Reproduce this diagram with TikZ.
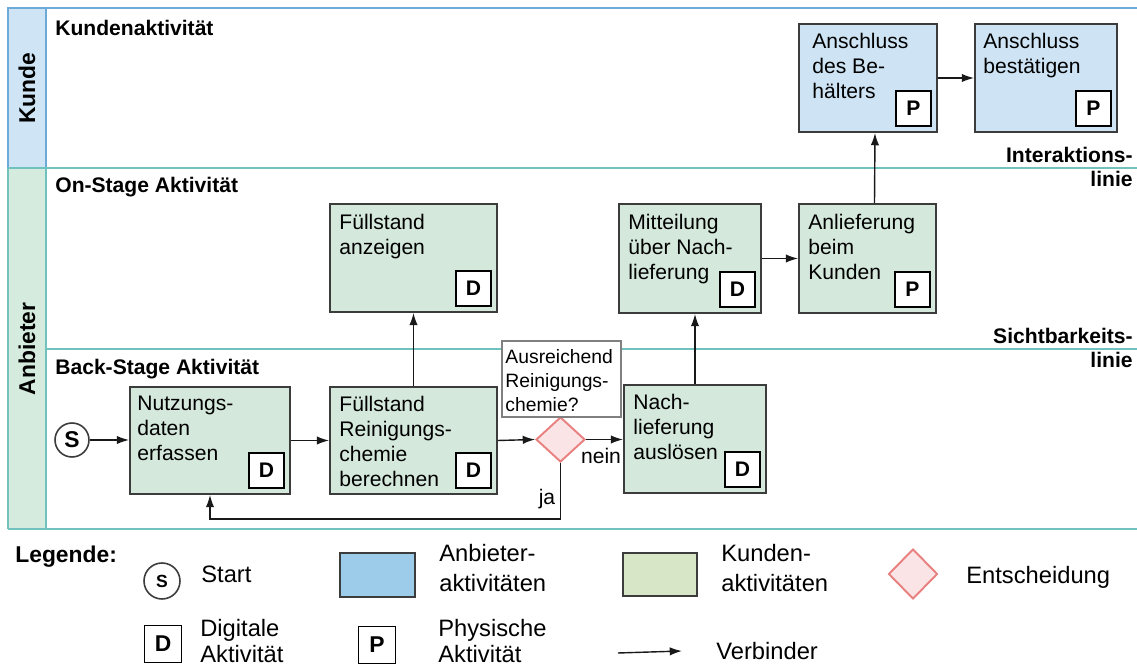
\documentclass[tikz,border=0pt]{standalone}
\usepackage{fontspec}
\setmainfont{Liberation Sans}
\usetikzlibrary{arrows.meta,shapes.geometric}

\definecolor{kundeblue}{RGB}{207,229,245}
\definecolor{anbietergreen}{RGB}{213,235,222}
\definecolor{boxgreen}{RGB}{212,232,220}
\definecolor{boxblue}{RGB}{206,228,244}
\definecolor{legblue}{RGB}{157,203,234}
\definecolor{leggreen}{RGB}{216,230,200}
\definecolor{decfill}{RGB}{251,228,230}
\definecolor{decline}{RGB}{232,128,128}
\definecolor{laneteal}{RGB}{112,194,190}
\definecolor{laneblue}{RGB}{110,170,215}
\definecolor{edgegray}{RGB}{60,60,60}

\tikzset{
    lane/.style={line width=0.85pt},
    lanename/.style={rotate=90, inner sep=0pt, font=\bfseries\fontsize{13}{15}\selectfont},
    lanetitle/.style={anchor=north west, inner sep=0pt, font=\bfseries\fontsize{12}{14}\selectfont},
    linelabel/.style={anchor=north east, inner sep=0pt, align=right, font=\bfseries\fontsize{12}{13.6}\selectfont},
    act/.style={draw=edgegray, line width=1.1pt, inner sep=0pt},
    actgreen/.style={act, fill=boxgreen},
    actblue/.style={act, fill=boxblue},
    acttext/.style={anchor=north west, inner sep=0pt, align=left, font=\fontsize{12}{14.2}\selectfont},
    badge/.style={draw=black, line width=1.1pt, fill=white, minimum size=0.7cm, inner sep=0pt,
        anchor=south east, font=\bfseries\fontsize{12}{14}\selectfont},
    startnode/.style={circle, draw=edgegray, line width=0.9pt, fill=white, minimum size=0.68cm,
        inner sep=0pt, font=\bfseries\fontsize{13}{15}\selectfont},
    decision/.style={diamond, draw=decline, line width=1.1pt, fill=decfill, inner sep=0pt,
        minimum width=0.98cm, minimum height=0.9cm},
    askbox/.style={draw=gray, line width=1pt, fill=white, inner sep=0pt},
    asktext/.style={anchor=north west, inner sep=0pt, align=left, font=\fontsize{11}{13.6}\selectfont},
    lbl/.style={inner sep=0pt, font=\fontsize{12}{14}\selectfont},
    conn/.style={draw=black!90, line width=0.8pt, -{Latex[length=7pt,width=4.8pt]}},
    legtext/.style={anchor=west, inner sep=0pt, align=left, font=\fontsize{13.5}{17}\selectfont},
    legbadge/.style={badge, anchor=center, minimum size=0.74cm, font=\bfseries\fontsize{13}{15}\selectfont},
}

\begin{document}
\begin{tikzpicture}[x=0.02cm, y=-0.02cm]
    \useasboundingbox (0,0) rectangle (1137,671);

    % swimlanes
    \fill[kundeblue] (8,8) rectangle (46,168);
    \fill[anbietergreen] (8,168) rectangle (46,529);
    \draw[laneblue, lane] (1137,8) -- (8,8) -- (8,168) (46,8) -- (46,168);
    \draw[laneteal, lane] (8,168) -- (1137,168) (46,349) -- (1137,349) (8,529) -- (1137,529)
        (8,168) -- (8,529) (46,168) -- (46,529);

    \node[lanename] (kunde) at (27,88) {Kunde};
    \node[lanename] (anbieter) at (27,349) {Anbieter};

    \node[lanetitle] (kundenakt) at (55,20) {Kundenaktivität};
    \node[lanetitle] (onstage) at (55,177) {On-Stage Aktivität};
    \node[lanetitle] (backstage) at (55,359) {Back-Stage Aktivität};

    \node[linelabel] (interaktion) at (1133,147) {Interaktions-\\linie};
    \node[linelabel] (sichtbarkeit) at (1133,328) {Sichtbarkeits-\\linie};

    % customer activities
    \node[actblue, minimum width=2.76cm, minimum height=2.16cm] (behaelter) at (868,78) {};
    \node[acttext] (behaelter-t) at ([shift={(14,10)}]behaelter.north west) {Anschluss\\des Be-\\hälters};
    \node[badge] (behaelter-b) at ([shift={(-6,-6)}]behaelter.south east) {P};

    \node[actblue, minimum width=2.84cm, minimum height=2.16cm] (bestaet) at (1046,78) {};
    \node[acttext] (bestaet-t) at ([shift={(9,10)}]bestaet.north west) {Anschluss\\bestätigen};
    \node[badge] (bestaet-b) at ([shift={(-6,-6)}]bestaet.south east) {P};

    % on-stage
    \node[actgreen, minimum width=3.34cm, minimum height=2.16cm] (anzeigen) at (413.5,258) {};
    \node[acttext] (anzeigen-t) at ([shift={(10,11)}]anzeigen.north west) {Füllstand\\anzeigen};
    \node[badge] (anzeigen-b) at ([shift={(-6,-6)}]anzeigen.south east) {D};

    \node[actgreen, minimum width=2.84cm, minimum height=2.18cm] (mitteil) at (690,258.5) {};
    \node[acttext] (mitteil-t) at ([shift={(10,11)}]mitteil.north west) {Mitteilung\\über Nach-\\lieferung};
    \node[badge] (mitteil-b) at ([shift={(-6,-6)}]mitteil.south east) {D};

    \node[actgreen, minimum width=2.74cm, minimum height=2.18cm] (anlief) at (867.5,258.5) {};
    \node[acttext] (anlief-t) at ([shift={(10,11)}]anlief.north west) {Anlieferung\\beim\\Kunden};
    \node[badge] (anlief-b) at ([shift={(-6,-6)}]anlief.south east) {P};

    % back-stage
    \node[startnode] (start) at (72,440) {S};

    \node[actgreen, minimum width=3.2cm, minimum height=2.14cm] (nutzung) at (210,440.5) {};
    \node[acttext] (nutzung-t) at ([shift={(8,10)}]nutzung.north west) {Nutzungs-\\daten\\erfassen};
    \node[badge] (nutzung-b) at ([shift={(-6,-6)}]nutzung.south east) {D};

    \node[actgreen, minimum width=3.34cm, minimum height=2.14cm] (berechnen) at (413.5,440.5) {};
    \node[acttext] (berechnen-t) at ([shift={(10,10)}]berechnen.north west) {Füllstand\\Reinigungs-\\chemie\\berechnen};
    \node[badge] (berechnen-b) at ([shift={(-6,-6)}]berechnen.south east) {D};

    \node[decision] (dec) at (560.5,439.5) {};
    \node[askbox, minimum width=2.38cm, minimum height=1.52cm] (ask) at (561.5,379) {};
    \node[asktext] (ask-t) at ([shift={(4,9)}]ask.north west) {Ausreichend\\Reinigungs-\\chemie?};

    \node[actgreen, minimum width=2.84cm, minimum height=2.16cm] (nachlief) at (695,439) {};
    \node[acttext] (nachlief-t) at ([shift={(10,10)}]nachlief.north west) {Nach-\\lieferung\\auslösen};
    \node[badge] (nachlief-b) at ([shift={(-6,-6)}]nachlief.south east) {D};

    \node[lbl] (nein) at (601,456) {nein};
    \node[lbl] (ja) at (547,499) {ja};
    \coordinate (loop) at (560.5,519);

    % connectors
    \draw[conn] (start.east) -- (nutzung.west |- start.east);
    \draw[conn] (nutzung.east) -- (berechnen.west);
    \draw[conn] (berechnen.east) -- (dec.west);
    \draw[conn] (dec.east) -- (nachlief.west |- dec.east);
    \draw[conn] (dec.south) -- (loop) -| (nutzung.south);
    \draw[conn] (berechnen.north) -- (anzeigen.south);
    \draw[conn] (nachlief.north) -- (nachlief.north |- mitteil.south);
    \draw[conn] (mitteil.east) -- (anlief.west);
    \draw[conn] ([xshift=0.14cm]anlief.north) -- ([xshift=0.14cm]behaelter.south);
    \draw[conn] (behaelter.east) -- (bestaet.west);

    % legend
    \node[anchor=base west, inner sep=0pt, font=\bfseries\fontsize{13}{15}\selectfont] (legende) at (15,563) {Legende:};

    \node[startnode, minimum size=0.72cm, font=\bfseries\fontsize{10}{12}\selectfont] (leg-start) at (162,581) {S};
    \node[legtext] (leg-start-t) at (201,574) {Start};

    \node[act, fill=legblue, minimum width=1.5cm, minimum height=0.88cm] (leg-anb) at (377.5,575) {};
    \node[legtext] (leg-anb-t) at (439,568) {Anbieter-\\aktivitäten};

    \node[act, fill=leggreen, minimum width=1.48cm, minimum height=0.86cm] (leg-kun) at (660,574.5) {};
    \node[legtext] (leg-kun-t) at (721,568) {Kunden-\\aktivitäten};

    \node[decision, minimum width=0.98cm, minimum height=1cm] (leg-dec) at (913,574) {};
    \node[legtext] (leg-dec-t) at (966,577) {Entscheidung};

    \node[legbadge] (leg-d) at (163,644) {D};
    \node[legtext, font=\fontsize{13.5}{15}\selectfont] (leg-d-t) at (200,641) {Digitale\\Aktivität};

    \node[legbadge] (leg-p) at (377,645) {P};
    \node[legtext, font=\fontsize{13.5}{15}\selectfont] (leg-p-t) at (438,641) {Physische\\Aktivität};

    \coordinate (leg-conn) at (618,653);
    \node[legtext] (leg-conn-t) at (716,651) {Verbinder};
    \draw[conn] (leg-conn) -- ([xshift=-0.68cm]leg-conn-t.west);
\end{tikzpicture}
\end{document}
